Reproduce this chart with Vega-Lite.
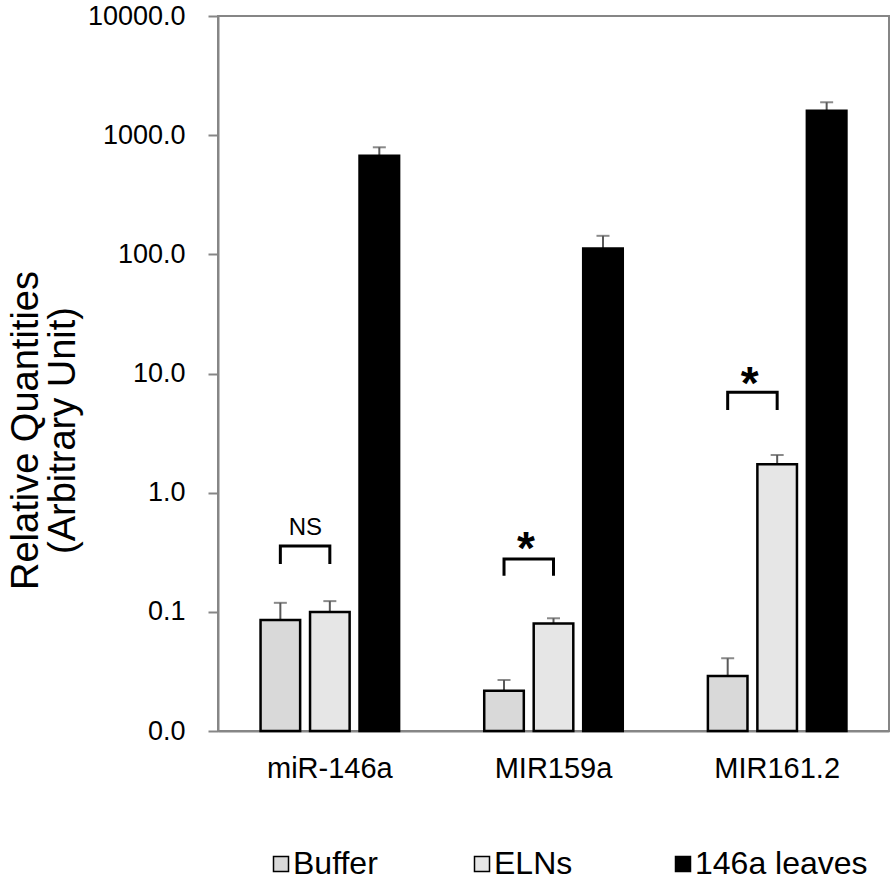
{
  "$schema": "https://vega.github.io/schema/vega-lite/v6.json",
  "width": 671,
  "height": 715,
  "autosize": {"type": "none"},
  "padding": {"left": 218, "top": 16, "right": 5, "bottom": 155},
  "background": "white",
  "config": {
    "font": "Liberation Sans",
    "view": {"stroke": "#868686", "strokeWidth": 2}
  },
  "datasets": {
    "bars": [
      {"gene": "miR-146a", "group": "Buffer", "value": 0.0855, "upper": 0.119},
      {"gene": "miR-146a", "group": "ELNs", "value": 0.0997, "upper": 0.123},
      {"gene": "miR-146a", "group": "146a leaves", "value": 673, "upper": 791},
      {"gene": "MIR159a", "group": "Buffer", "value": 0.0218, "upper": 0.0268},
      {"gene": "MIR159a", "group": "ELNs", "value": 0.08, "upper": 0.0883},
      {"gene": "MIR159a", "group": "146a leaves", "value": 112, "upper": 143},
      {"gene": "MIR161.2", "group": "Buffer", "value": 0.029, "upper": 0.0407},
      {"gene": "MIR161.2", "group": "ELNs", "value": 1.73, "upper": 2.07},
      {"gene": "MIR161.2", "group": "146a leaves", "value": 1604, "upper": 1888}
    ],
    "brackets": [
      {"gene": "miR-146a", "group": "Buffer", "v": 0.252, "ord": 1},
      {"gene": "miR-146a", "group": "Buffer", "v": 0.357, "ord": 2},
      {"gene": "miR-146a", "group": "ELNs", "v": 0.357, "ord": 3},
      {"gene": "miR-146a", "group": "ELNs", "v": 0.252, "ord": 4},
      {"gene": "MIR159a", "group": "Buffer", "v": 0.201, "ord": 1},
      {"gene": "MIR159a", "group": "Buffer", "v": 0.2775, "ord": 2},
      {"gene": "MIR159a", "group": "ELNs", "v": 0.2775, "ord": 3},
      {"gene": "MIR159a", "group": "ELNs", "v": 0.201, "ord": 4},
      {"gene": "MIR161.2", "group": "Buffer", "v": 4.94, "ord": 1},
      {"gene": "MIR161.2", "group": "Buffer", "v": 6.955, "ord": 2},
      {"gene": "MIR161.2", "group": "ELNs", "v": 6.955, "ord": 3},
      {"gene": "MIR161.2", "group": "ELNs", "v": 4.94, "ord": 4}
    ],
    "labels": [
      {"gene": "miR-146a", "group": "Buffer", "v": 0.4416, "label": "NS"},
      {"gene": "MIR159a", "group": "Buffer", "v": 0.25, "label": "*"},
      {"gene": "MIR161.2", "group": "Buffer", "v": 6.1, "label": "*"}
    ]
  },
  "encoding": {
    "x": {
      "field": "gene",
      "type": "nominal",
      "sort": ["miR-146a", "MIR159a", "MIR161.2"],
      "scale": {"paddingInner": 0, "paddingOuter": 0},
      "axis": {
        "title": null,
        "labelAngle": 0,
        "labelFontSize": 29,
        "labelColor": "black",
        "labelPadding": 23,
        "ticks": false,
        "domainColor": "#868686",
        "domainWidth": 2
      }
    },
    "xOffset": {
      "field": "group",
      "type": "nominal",
      "sort": ["Buffer", "ELNs", "146a leaves"],
      "scale": {"paddingInner": 0.2, "paddingOuter": 0.86}
    }
  },
  "layer": [
    {
      "data": {"name": "bars"},
      "mark": {"type": "rule", "color": "#595959", "strokeWidth": 2},
      "encoding": {
        "y": {"field": "value", "type": "quantitative"},
        "y2": {"field": "upper"}
      }
    },
    {
      "data": {"name": "bars"},
      "mark": {"type": "tick", "color": "#595959", "thickness": 2, "size": 13, "orient": "horizontal"},
      "encoding": {
        "y": {"field": "upper", "type": "quantitative"}
      }
    },
    {
      "data": {"name": "bars"},
      "mark": {"type": "bar", "stroke": "black", "strokeWidth": 2.5},
      "encoding": {
        "y": {
          "field": "value",
          "type": "quantitative",
          "scale": {"type": "log", "domain": [0.01, 10000]},
          "axis": {
            "values": [0.01, 0.1, 1, 10, 100, 1000, 10000],
            "labelExpr": "format(datum.value, '.1f')",
            "grid": false,
            "title": ["Relative Quantities", "(Arbitrary Unit)"],
            "titleFontSize": 38,
            "titleFontWeight": "normal",
            "titleColor": "black",
            "titleLineHeight": 37,
            "titlePadding": 5,
            "titleY": 414,
            "labelFontSize": 27,
            "labelColor": "black",
            "labelPadding": 23,
            "tickSize": 10,
            "tickWidth": 2,
            "tickColor": "#868686",
            "domainColor": "#868686",
            "domainWidth": 2
          }
        },
        "y2": {"datum": 0.01},
        "color": {
          "field": "group",
          "type": "nominal",
          "sort": ["Buffer", "ELNs", "146a leaves"],
          "scale": {"domain": ["Buffer", "ELNs", "146a leaves"], "range": ["#d9d9d9", "#e6e6e6", "#000000"]},
          "legend": {
            "title": null,
            "orient": "none",
            "legendX": 47,
            "legendY": 832,
            "direction": "horizontal",
            "columns": 3,
            "gridAlign": "all",
            "columnPadding": -11,
            "labelFontSize": 32,
            "labelLimit": 400,
            "labelColor": "black",
            "symbolType": "square",
            "symbolSize": 225,
            "symbolStrokeColor": "black",
            "symbolStrokeWidth": 1.5,
            "labelOffset": -4
          }
        }
      }
    },
    {
      "data": {"name": "brackets"},
      "mark": {"type": "line", "color": "black", "strokeWidth": 3},
      "encoding": {
        "y": {"field": "v", "type": "quantitative"},
        "detail": {"field": "gene"},
        "order": {"field": "ord"}
      }
    },
    {
      "data": {"name": "labels"},
      "transform": [{"filter": "datum.label == 'NS'"}],
      "mark": {"type": "text", "fontSize": 24, "dx": 25, "baseline": "alphabetic", "color": "black"},
      "encoding": {
        "y": {"field": "v", "type": "quantitative"},
        "text": {"field": "label"}
      }
    },
    {
      "data": {"name": "labels"},
      "transform": [{"filter": "datum.label == '*'"}],
      "mark": {"type": "text", "fontSize": 46, "fontWeight": "bold", "dx": 22, "baseline": "alphabetic", "color": "black"},
      "encoding": {
        "y": {"field": "v", "type": "quantitative"},
        "text": {"field": "label"}
      }
    }
  ]
}
